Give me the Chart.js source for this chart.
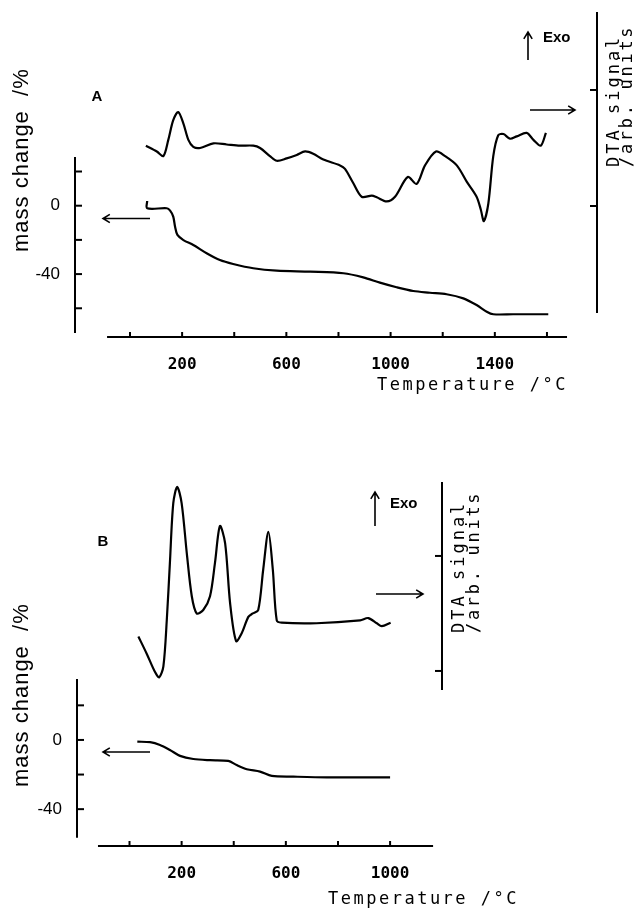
<!DOCTYPE html>
<html>
<head>
<meta charset="utf-8">
<title>TG / DTA</title>
<script src="https://cdn.jsdelivr.net/npm/chart.js@4.4.1/dist/chart.umd.min.js"></script>
<style>
  body { margin: 0; background: #fff; }
  .panel { position: absolute; left: 0; width: 641px; }
</style>
</head>
<body>
<div class="panel" style="top:0;height:455px"><canvas id="chartA" width="641" height="455"></canvas></div>
<div class="panel" style="top:455px;height:456px"><canvas id="chartB" width="641" height="456"></canvas></div>
<script>
// --- tick values ---
const tempTicksA = [0, 200, 400, 600, 800, 1000, 1200, 1400, 1600];
const tempLabelsA = [200, 600, 1000, 1400];
const tempTicksB = [0, 200, 400, 600, 800, 1000];
const tempLabelsB = [200, 600, 1000];
const massTicksA = [20, 0, -20, -40, -60];
const massTicksB = [20, 0, -20, -40];
const massLabels = [0, -40];
const dtaTicks = [0, 10];

// --- sample A ---
const dtaTempA = [61, 103, 128, 147, 166, 185, 205, 224, 243, 269, 320, 371, 422, 473, 499, 537, 563, 601, 640, 672,
  703, 742, 806, 825, 856, 889, 928, 947, 985, 1017, 1066, 1100, 1132, 1174, 1209, 1254, 1292, 1330, 1346, 1358,
  1375, 1394, 1413, 1433, 1458, 1484, 1522, 1548, 1576, 1596];
const dtaSignalA = [5.2, 4.7, 4.3, 5.7, 7.4, 8.1, 7.1, 5.7, 5.1, 5.0, 5.4, 5.3, 5.2, 5.2, 5.0, 4.3, 3.9, 4.1, 4.4, 4.7,
  4.5, 4.0, 3.5, 3.2, 2.0, 0.8, 0.9, 0.75, 0.4, 0.8, 2.5, 1.9, 3.5, 4.7, 4.3, 3.5, 2.1, 0.8, -0.3, -1.3,
  0.2, 4.3, 6.1, 6.2, 5.8, 6.0, 6.3, 5.7, 5.2, 6.3];
const tgTempA = [66, 66, 141, 154, 166, 173, 182, 205, 243, 294, 345, 396, 473, 563, 691, 819, 895, 959, 1023, 1087,
  1151, 1215, 1279, 1330, 1369, 1394, 1470, 1605];
const tgMassA = [2.8, -1.5, -1.5, -2.9, -6.4, -12.3, -17.1, -20.1, -23.0, -27.8, -31.8, -34.1, -36.6, -38.0, -38.6,
  -39.5, -41.9, -45.0, -47.7, -49.9, -50.9, -51.8, -54.2, -58.1, -62.0, -63.5, -63.5, -63.5];

// --- sample B ---
const dtaTempB = [34, 66, 98, 114, 130, 143, 155, 168, 183, 200, 220, 239, 258, 283, 309, 328, 347, 367, 386, 409,
  431, 456, 473, 494, 513, 533, 550, 565, 584, 718, 885, 916, 949, 968, 1002];
const dtaSignalB = [3.0, 1.5, -0.1, -0.55, 0.4, 4.4, 9.4, 14.6, 16.0, 14.6, 10.2, 6.5, 5.0, 5.3, 6.5, 9.4, 12.6, 11.1,
  5.9, 2.6, 3.3, 4.7, 5.0, 5.3, 8.8, 12.1, 8.8, 4.4, 4.2, 4.15, 4.4, 4.6, 4.15, 3.9, 4.2];
const tgTempB = [30, 79, 117, 155, 194, 245, 309, 379, 411, 450, 501, 546, 629, 757, 1000];
const tgMassB = [-1.0, -1.3, -2.9, -5.8, -9.2, -11.0, -11.7, -12.1, -14.5, -16.9, -18.3, -20.8, -21.2, -21.6, -21.6];

const INK = '#000';
const toPoints = (xs, ys) => xs.map((x, i) => ({ x, y: ys[i] }));

function arrow(ctx, x1, y1, x2, y2) {
  const a = Math.atan2(y2 - y1, x2 - x1), h = 8;
  ctx.beginPath();
  ctx.moveTo(x1, y1); ctx.lineTo(x2, y2);
  ctx.moveTo(x2 - h * Math.cos(a - 0.55), y2 - h * Math.sin(a - 0.55));
  ctx.lineTo(x2, y2);
  ctx.lineTo(x2 - h * Math.cos(a + 0.55), y2 - h * Math.sin(a + 0.55));
  ctx.stroke();
}

// rotated text, read bottom to top, starting at (x, y)
function vText(ctx, str, x, y, font, spacing) {
  ctx.save();
  ctx.translate(x, y);
  ctx.rotate(-Math.PI / 2);
  ctx.font = font;
  ctx.letterSpacing = spacing;
  ctx.textAlign = 'left';
  ctx.textBaseline = 'middle';
  ctx.fillText(str, 0, 0);
  ctx.restore();
}

// scales keep a fixed size and add no edge padding, so the plot area stays where the layout puts it
function fixSize(prop, size) {
  return s => {
    s[prop] = size;
    s.paddingTop = s.paddingBottom = s.paddingLeft = s.paddingRight = 0;
  };
}

// free-standing axis lines, inward ticks, arrows and titles
const panelDecor = {
  id: 'panelDecor',
  afterDraw(chart, args, o) {
    const { ctx, chartArea } = chart;
    const { x, tg, dta } = chart.scales;
    const line = (x1, y1, x2, y2) => { ctx.beginPath(); ctx.moveTo(x1, y1); ctx.lineTo(x2, y2); ctx.stroke(); };
    ctx.save();
    ctx.strokeStyle = INK;
    ctx.fillStyle = INK;
    ctx.lineWidth = 2;

    // temperature axis
    const yb = chartArea.bottom;
    line(x.getPixelForValue(o.xLine[0]), yb, x.getPixelForValue(o.xLine[1]), yb);
    o.xTicks.forEach(t => { const p = x.getPixelForValue(t); line(p, yb, p, yb - 5); });

    // mass change axis
    const xl = chartArea.left;
    line(xl, tg.getPixelForValue(o.tgLine[0]), xl, tg.getPixelForValue(o.tgLine[1]));
    o.tgTicks.forEach(t => { const p = tg.getPixelForValue(t); line(xl, p, xl + 7, p); });

    // DTA axis
    const xr = chartArea.right;
    line(xr, dta.getPixelForValue(o.dtaLine[0]), xr, dta.getPixelForValue(o.dtaLine[1]));
    dtaTicks.forEach(t => { const p = dta.getPixelForValue(t); line(xr, p, xr - 7, p); });

    // arrows
    ctx.lineWidth = 1.6;
    o.arrows.forEach(a => arrow(ctx, ...a));

    // texts
    ctx.font = 'bold 15px "Liberation Sans"';
    ctx.textAlign = 'center';
    ctx.textBaseline = 'middle';
    ctx.fillText(o.letter[0], o.letter[1], o.letter[2]);
    ctx.textAlign = 'left';
    ctx.fillText('Exo', o.exo[0], o.exo[1]);

    ctx.font = '17px "DejaVu Sans Mono"';
    ctx.letterSpacing = '2.5px';
    ctx.fillText('Temperature /°C', o.tempTitle[0], o.tempTitle[1]);
    ctx.letterSpacing = '0px';

    vText(ctx, 'mass change  /%', o.massTitle[0], o.massTitle[1], '22px "Liberation Sans"', '1px');
    vText(ctx, 'DTA signal', o.dtaTitle[0], o.dtaTitle[2], '17px "DejaVu Sans Mono"', '3px');
    vText(ctx, '/arb. units', o.dtaTitle[1], o.dtaTitle[2], '17px "DejaVu Sans Mono"', '2.7px');
    ctx.restore();
  }
};

function makePanel(id, p) {
  const canvas = document.getElementById(id);
  const W = canvas.width, H = canvas.height;
  const lineStyle = { borderColor: INK, borderWidth: 2.2, pointRadius: 0, tension: 0.3, fill: false };
  return new Chart(canvas, {
    type: 'line',
    data: {
      datasets: [
        { label: 'DTA', yAxisID: 'dta', data: toPoints(p.dtaT, p.dtaV), ...lineStyle },
        { label: 'TG', yAxisID: 'tg', data: toPoints(p.tgT, p.tgM), ...lineStyle }
      ]
    },
    options: {
      responsive: false,
      animation: false,
      devicePixelRatio: 1,
      layout: { padding: { top: p.area.top, left: 0, right: 0, bottom: 0 } },
      plugins: {
        legend: { display: false },
        tooltip: { enabled: false },
        panelDecor: p.decor
      },
      scales: {
        x: {
          type: 'linear', position: 'bottom', min: p.x[0], max: p.x[1],
          afterFit: fixSize('height', H - p.area.bottom),
          afterBuildTicks: s => { s.ticks = p.decor.xTicks.map(v => ({ value: v })); },
          grid: { display: false, drawTicks: false },
          border: { display: false },
          ticks: {
            autoSkip: false, maxRotation: 0, padding: 18, color: INK,
            font: { family: 'DejaVu Sans Mono', size: 16, weight: 'bold' },
            callback: v => p.xLabels.includes(v) ? String(v) : ''
          }
        },
        tg: {
          type: 'linear', position: 'left', min: p.tg[0], max: p.tg[1],
          afterFit: fixSize('width', p.area.left),
          afterBuildTicks: s => { s.ticks = p.decor.tgTicks.map(v => ({ value: v })); },
          grid: { display: false, drawTicks: false },
          border: { display: false },
          ticks: {
            padding: 15, color: INK,
            font: { family: 'Liberation Sans', size: 17 },
            callback: v => massLabels.includes(v) ? String(v) : ''
          }
        },
        dta: {
          type: 'linear', position: 'right', min: p.dta[0], max: p.dta[1],
          afterFit: fixSize('width', W - p.area.right),
          grid: { display: false, drawTicks: false },
          border: { display: false },
          ticks: { display: false }
        }
      }
    },
    plugins: [panelDecor]
  });
}

makePanel('chartA', {
  area: { left: 75, right: 597, top: 12, bottom: 337 },
  x: [-211, 1792], tg: [-76.8, 113.3], dta: [-11.29, 16.72],
  dtaT: dtaTempA, dtaV: dtaSignalA, tgT: tgTempA, tgM: tgMassA,
  xLabels: tempLabelsA,
  decor: {
    xTicks: tempTicksA, xLine: [-88, 1677],
    tgTicks: massTicksA, tgLine: [28.5, -74.4],
    dtaLine: [16.72, -9.22],
    arrows: [[150, 218.5, 103, 218.5], [530, 110, 575, 110], [528, 60, 528, 32]],
    letter: ['A', 97, 97], exo: [543, 38],
    tempTitle: [377, 386], massTitle: [22, 252], dtaTitle: [615, 628, 167]
  }
});

makePanel('chartB', {
  area: { left: 77, right: 442, top: 27, bottom: 391 },
  x: [-201.5, 1199.2], tg: [-61.3, 149.1], dta: [-15.22, 16.43],
  dtaT: dtaTempB, dtaV: dtaSignalB, tgT: tgTempB, tgM: tgMassB,
  xLabels: tempLabelsB,
  decor: {
    xTicks: tempTicksB, xLine: [-121, 1165],
    tgTicks: massTicksB, tgLine: [35.3, -56.6],
    dtaLine: [16.43, -1.65],
    arrows: [[150, 297, 103, 297], [376, 139, 423, 139], [375, 71, 375, 37]],
    letter: ['B', 103, 87], exo: [390, 49],
    tempTitle: [328, 445], massTitle: [22, 332], dtaTitle: [460, 474.5, 178]
  }
});
</script>
</body>
</html>
